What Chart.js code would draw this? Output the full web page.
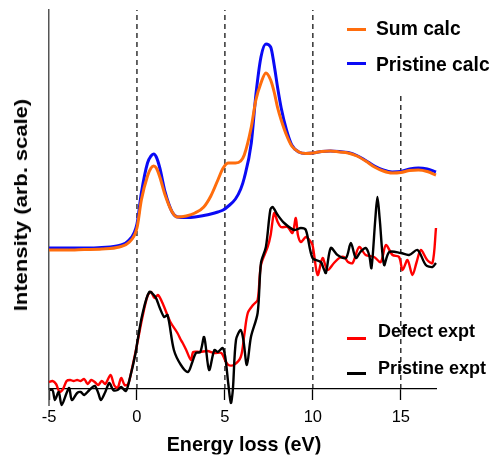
<!DOCTYPE html>
<html>
<head>
<meta charset="utf-8">
<script src="https://cdn.jsdelivr.net/npm/chart.js@4.4.1/dist/chart.umd.min.js"></script>
<style>
  html, body { margin: 0; padding: 0; background: #fff; }
  #wrap { position: relative; width: 491px; height: 457px; overflow: hidden; font-family: "Liberation Sans", Arial, sans-serif; }
  #c { position: absolute; left: 0; top: 0; }
  .t { position: absolute; font-weight: bold; color: #000; white-space: nowrap; line-height: 1; }
  .mk { position: absolute; width: 19px; height: 3px; }
</style>
</head>
<body>
<div id="wrap">
  <canvas id="c" width="491" height="457"></canvas>
  <div class="t" id="ytitle" style="font-size:18px; left:21px; top:205px; transform: translate(-50%,-50%) rotate(-90deg) scaleX(1.22);">Intensity (arb. scale)</div>
  <div class="t" id="xtitle" style="font-size:21px; left:244px; top:443px; transform: translate(-50%,-50%) scaleX(0.94);">Energy loss (eV)</div>

  <div class="mk" style="left:347px; top:27.5px; background:#FF6D0D;"></div>
  <div class="t" style="font-size:19.3px; left:376px; top:29px; transform: translateY(-50%);">Sum calc</div>
  <div class="mk" style="left:347px; top:61.5px; background:#0A0AF5;"></div>
  <div class="t" style="font-size:19.3px; left:376px; top:65px; transform: translateY(-50%);">Pristine calc</div>

  <div class="mk" style="left:347px; top:336.5px; background:#FF0000;"></div>
  <div class="t" style="font-size:18px; left:378px; top:331px; transform: translateY(-50%);">Defect expt</div>
  <div class="mk" style="left:347px; top:371.5px; background:#000000;"></div>
  <div class="t" style="font-size:18px; left:378px; top:368px; transform: translateY(-50%);">Pristine expt</div>
</div>
<script>
// ---- data (energy in eV, intensity in arbitrary units) ----
const calcE = [-5,-4,-3,-2,-1,-0.5,0,0.25,0.6,0.8,0.95,1.1,1.3,1.6,2.0,2.3,2.8,3.3,3.8,4.2,4.6,4.9,5.2,5.6,5.9,6.1,6.5,6.76,7.05,7.33,7.6,7.8,8.0,8.2,8.5,8.8,9.2,9.6,10,10.5,11,11.5,12,12.5,13,13.5,14,14.5,15,15.5,16,16.5,17];
const sumCalc = [139,139,139.5,140,142,146,161,189,213,221,223,221,212,194,177,172,173,176,182,193,209,221,226,226,228,234,262,289,306,316,309,297,281,269,254,243,237,235.5,236,237.5,238,237,236,233,228,222,218,216,216.5,218.5,219,217.5,214];
const pristineCalc = [141,141,141,141.5,143.5,148,165,196,226,233,235,232,221,197,177,172,171.5,172,173.5,175,177,179,183,190,200,211,246,294,332,345,342,324,301,281,259,244,237,235.5,236,237.5,238,237.5,236.5,233.5,228.5,223,219,217,217.5,220,221,220,217];

const defectE = [-5,-4.8,-4.6,-4.4,-4.2,-4.0,-3.8,-3.6,-3.4,-3.2,-3.0,-2.8,-2.6,-2.4,-2.2,-2.0,-1.8,-1.5,-1.3,-1.1,-0.9,-0.7,-0.5,-0.3,0,0.3,0.6,0.8,1.0,1.2,1.5,1.9,2.3,2.5,2.6,2.8,3.07,3.2,3.6,4.0,4.4,4.8,5.0,5.2,5.5,5.9,6.1,6.3,6.6,6.86,7.05,7.43,7.6,7.8,8.0,8.18,8.56,8.84,9.03,9.15,9.32,9.6,9.8,9.98,10.27,10.55,10.83,11.2,11.5,11.78,12.0,12.26,12.63,13.0,13.48,13.86,14.15,14.53,14.9,15.1,15.38,15.66,15.9,16.14,16.5,16.8,17.0];
const defectExpt = [7,8,5,-3,0,8,9,8,9,8,10,5,9,7,4,8,5,14,4,1,11,4,5,19,44,71,93,97,91,94,84,67,56,49,46,39,29,37,37,38,36,36,29,24,24,32,54,76,84,89,124,142,154,176,167,162,162,156,171,154,147,152,149,144,114,131,119,126,131,132,127,126,142,134,132,127,144,134,132,119,129,114,127,139,129,126,161];

const pristineExE = [-5,-4.8,-4.66,-4.45,-4.28,-4.0,-3.85,-3.7,-3.4,-3.2,-3.0,-2.7,-2.4,-2.2,-2.05,-1.8,-1.57,-1.35,-1.1,-0.9,-0.63,-0.4,-0.1,0.04,0.3,0.7,1.05,1.3,1.55,1.74,2.1,2.5,2.9,3.15,3.35,3.6,3.82,4.1,4.4,4.6,4.87,5.02,5.2,5.34,5.45,5.63,5.9,6.05,6.25,6.48,6.86,7.05,7.33,7.58,7.71,8.0,8.37,8.94,9.32,9.6,9.98,10.45,10.6,10.74,11.02,11.4,11.88,12.16,12.44,12.7,13.0,13.2,13.33,13.55,13.67,13.8,14.05,14.34,15.0,15.47,15.95,16.42,16.8,17.0];
const pristineExpt = [-1,-1,-11,-3,-16,-4,1,-11,-4,-3,-6,-1,3,-4,-11,-3,6,-1,-1,2,-2,11,34,49,74,97,92,81,72,74,39,24,17,27,36,37,52,19,39,37,41,32,4,-14,-1,49,59,49,24,52,76,126,142,179,182,174,166,159,161,159,131,127,121,116,141,134,131,146,131,137,141,134,121,170,192,170,124,137,136,134,139,124,122,126];

const refLineX = [0, 5, 10, 15];
const refLineTop = [379, 379, 379, 294];

const xTicks = [-5, 0, 5, 10, 15];

// ---- build datasets ----
const pts = (xs, ys) => xs.map((x, i) => ({x: x, y: ys[i]}));

const datasets = [];
datasets.push({label:'Sum calc', data: pts(calcE, sumCalc), borderColor:'#FF6D0D', borderWidth:3, pointRadius:0, cubicInterpolationMode:'monotone', order:1, clip:false});
datasets.push({label:'Pristine calc', data: pts(calcE, pristineCalc), borderColor:'#0A0AF5', borderWidth:3, pointRadius:0, cubicInterpolationMode:'monotone', order:2, clip:false});
datasets.push({label:'Pristine expt', data: pts(pristineExE, pristineExpt), borderColor:'#000000', borderWidth:2.4, pointRadius:0, tension:0.3, order:3, clip:false});
datasets.push({label:'Defect expt', data: pts(defectE, defectExpt), borderColor:'#FF0000', borderWidth:2.4, pointRadius:0, tension:0.3, order:4, clip:false});
refLineX.forEach((x, i) => {
  datasets.push({label:'ref' + x, data:[{x:x, y:0}, {x:x, y:refLineTop[i]}], borderColor:'#000', borderWidth:1.2, borderDash:[5,4], pointRadius:0, order:10, clip:false});
});

const extendYAxis = {
  id: 'extendYAxis',
  afterDraw(chart) {
    const ctx = chart.ctx, a = chart.chartArea;
    ctx.save();
    ctx.strokeStyle = '#555';
    ctx.lineWidth = 1.5;
    ctx.beginPath();
    ctx.moveTo(a.left, a.bottom);
    ctx.lineTo(a.left, a.bottom + 17);
    ctx.stroke();
    ctx.restore();
  }
};

new Chart(document.getElementById('c'), {
  type: 'line',
  data: { datasets },
  plugins: [extendYAxis],
  options: {
    responsive: false,
    devicePixelRatio: 1,
    animation: false,
    layout: { padding: { top: 10, right: 55, left: 0, bottom: 0 } },
    plugins: { legend: { display: false }, tooltip: { enabled: false } },
    scales: {
      x: {
        type: 'linear', min: -5, max: 17,
        afterBuildTicks: (s) => { s.ticks = xTicks.map(v => ({value: v})); },
        afterFit: (s) => { s.height = 68; },
        ticks: { color: '#000', font: { family: '"Liberation Sans", Arial, sans-serif', size: 16.5 }, padding: 8, maxRotation: 0 },
        grid: { drawOnChartArea: false, tickLength: 11, color: '#000', tickWidth: 1.3 },
        border: { color: '#000', width: 1.3 }
      },
      y: {
        type: 'linear', min: 0, max: 379,
        afterFit: (s) => { s.width = 49; },
        ticks: { display: false },
        grid: { display: false, drawTicks: false },
        border: { color: '#555', width: 1.5 }
      }
    }
  }
});
</script>
</body>
</html>
